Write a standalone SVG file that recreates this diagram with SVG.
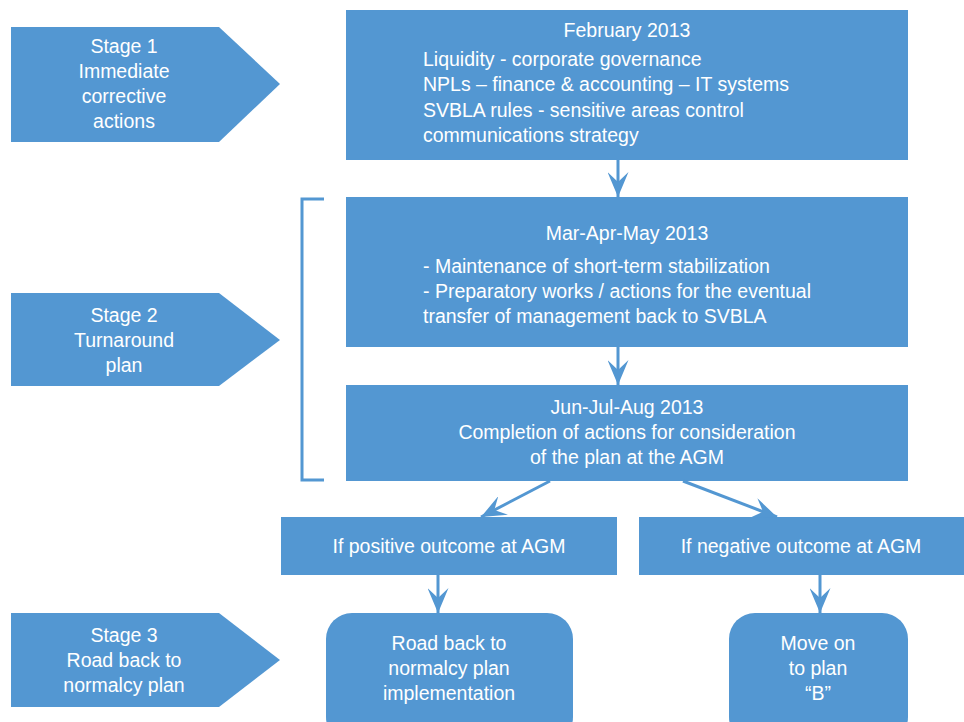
<svg xmlns="http://www.w3.org/2000/svg" width="964" height="722" viewBox="0 0 964 722">
<style>
.n{fill:#5397D2;}
.t{fill:#fff;font-family:"Liberation Sans",Arial,sans-serif;font-size:19.5px;}
.c{text-anchor:middle;}
.ln{stroke:#5397D2;stroke-width:3;fill:none;}
</style>
<defs>
<marker id="ah" markerUnits="userSpaceOnUse" viewBox="0 0 25 21" refX="25" refY="10.5" markerWidth="25" markerHeight="21" orient="auto">
<path d="M0,0 L25,10.5 L0,21 L10,10.5 Z" fill="#5397D2"/>
</marker>
</defs>
<rect width="964" height="722" fill="#fff"/>
<g id="stage1">
<polygon class="n" points="11,27 219,27 280,84 219,142 11,142"/>
<text class="t c" x="124" y="53">Stage 1</text>
<text class="t c" x="124" y="78">Immediate</text>
<text class="t c" x="124" y="103">corrective</text>
<text class="t c" x="124" y="128">actions</text>
</g>
<g id="stage2">
<polygon class="n" points="11,293 219,293 280,340 219,386 11,386"/>
<text class="t c" x="124" y="322">Stage 2</text>
<text class="t c" x="124" y="347">Turnaround</text>
<text class="t c" x="124" y="372">plan</text>
</g>
<g id="stage3">
<polygon class="n" points="11,613 219,613 280,660 219,707 11,707"/>
<text class="t c" x="124" y="642">Stage 3</text>
<text class="t c" x="124" y="667">Road back to</text>
<text class="t c" x="124" y="692">normalcy plan</text>
</g>
<g id="feb">
<rect class="n" x="346" y="10" width="562" height="150"/>
<text class="t c" x="627" y="37">February 2013</text>
<text class="t" x="423" y="66">Liquidity - corporate governance</text>
<text class="t" x="423" y="91">NPLs – finance &amp; accounting – IT systems</text>
<text class="t" x="423" y="117">SVBLA rules - sensitive areas control</text>
<text class="t" x="423" y="142">communications strategy</text>
</g>
<g id="mar">
<rect class="n" x="346" y="197" width="562" height="150"/>
<text class="t c" x="627" y="240">Mar-Apr-May 2013</text>
<text class="t" x="423" y="273">- Maintenance of short-term stabilization</text>
<text class="t" x="423" y="298">- Preparatory works / actions for the eventual</text>
<text class="t" x="423" y="323">transfer of management back to SVBLA</text>
</g>
<g id="jun">
<rect class="n" x="346" y="385" width="562" height="96"/>
<text class="t c" x="627" y="414">Jun-Jul-Aug 2013</text>
<text class="t c" x="627" y="439">Completion of actions for consideration</text>
<text class="t c" x="627" y="464">of the plan at the AGM</text>
</g>
<g id="positive">
<rect class="n" x="281" y="517" width="336" height="58"/>
<text class="t c" x="449" y="553">If positive outcome at AGM</text>
</g>
<g id="negative">
<rect class="n" x="639" y="517" width="330" height="58"/>
<text class="t c" x="801" y="553">If negative outcome at AGM</text>
</g>
<g id="road">
<rect class="n" x="326" y="613" width="247" height="130" rx="26"/>
<text class="t c" x="449" y="650">Road back to</text>
<text class="t c" x="449" y="675">normalcy plan</text>
<text class="t c" x="449" y="700">implementation</text>
</g>
<g id="planb">
<rect class="n" x="729" y="613" width="179" height="130" rx="26"/>
<text class="t c" x="818" y="650">Move on</text>
<text class="t c" x="818" y="675">to plan</text>
<text class="t c" x="818" y="700">“B”</text>
</g>
<g id="connectors">
<path class="ln" d="M324,199 L302,199 L302,480 L324,480"/>
<line class="ln" x1="618" y1="160" x2="618" y2="197" marker-end="url(#ah)"/>
<line class="ln" x1="618" y1="347" x2="618" y2="385" marker-end="url(#ah)"/>
<line class="ln" x1="550" y1="481" x2="481" y2="517" marker-end="url(#ah)"/>
<line class="ln" x1="683" y1="481" x2="777" y2="517" marker-end="url(#ah)"/>
<line class="ln" x1="438" y1="575" x2="438" y2="613" marker-end="url(#ah)"/>
<line class="ln" x1="820" y1="575" x2="820" y2="613" marker-end="url(#ah)"/>
</g>
</svg>
